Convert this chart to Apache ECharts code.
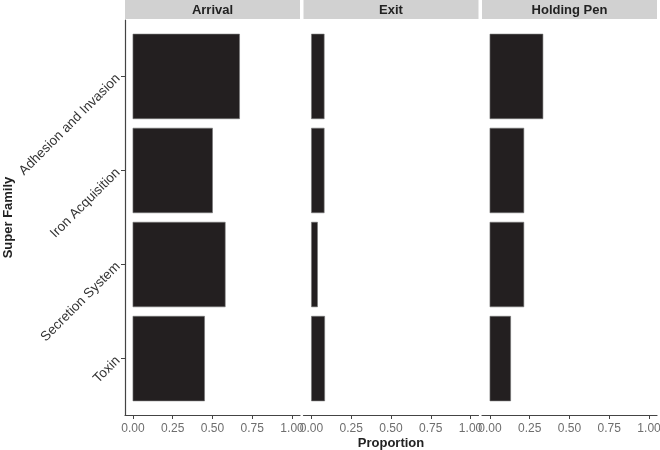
<!DOCTYPE html>
<html>
<head>
<meta charset="utf-8">
<script src="https://cdn.jsdelivr.net/npm/echarts@6/dist/echarts.min.js"></script>
<style>
html, body { margin: 0; padding: 0; background: #fff; }
#main { width: 660px; height: 450px; }
</style>
</head>
<body>
<div id="main"></div>
<script>
var categories = ['Adhesion and Invasion', 'Iron Acquisition', 'Secretion System', 'Toxin'];
var panels = ['Arrival', 'Exit', 'Holding Pen'];
var arrival = [0.67, 0.50, 0.58, 0.45];
var exitVals = [0.08, 0.08, 0.038, 0.083];
var holdingPen = [0.333, 0.213, 0.213, 0.13];
var xTicks = [0, 0.25, 0.5, 0.75, 1];

var panelData = [arrival, exitVals, holdingPen];
var lefts = [125, 303.5, 482];
var panelW = 175, panelTop = 20, panelH = 395, stripH = 19;
var font = 'Liberation Sans, Arial, sans-serif';

var chart = echarts.init(document.getElementById('main'));

var grids = [], xAxes = [], yAxes = [], series = [], graphics = [];

panels.forEach(function (name, i) {
    grids.push({
        left: lefts[i], top: panelTop, width: panelW, height: panelH,
        containLabel: false, outerBoundsMode: 'none'
    });
    xAxes.push({
        type: 'value', gridIndex: i, min: -0.05, max: 1.05,
        axisLine: { show: true, onZero: false, lineStyle: { color: '#444', width: 1.2 } },
        axisTick: { show: true, length: 4, customValues: xTicks, lineStyle: { color: '#444' } },
        axisLabel: {
            customValues: xTicks, color: '#6e6e6e', fontSize: 12, fontFamily: font, margin: 8,
            formatter: function (v) { return v.toFixed(2); }
        },
        splitLine: { show: false },
        name: i === 1 ? 'Proportion' : '',
        nameLocation: 'middle', nameGap: 22, nameMoveOverlap: false,
        nameTextStyle: { fontWeight: 'bold', fontSize: 13, color: '#222', fontFamily: font }
    });
    yAxes.push({
        type: 'value', gridIndex: i, min: -0.6, max: 3.6, inverse: true,
        axisLine: { show: i === 0, onZero: false, lineStyle: { color: '#444', width: 1.2 } },
        axisTick: { show: i === 0, length: 4, customValues: [0, 1, 2, 3], lineStyle: { color: '#444' } },
        axisLabel: {
            show: i === 0, customValues: [0, 1, 2, 3], rotate: 45, color: '#333', fontSize: 13.5,
            fontFamily: font, margin: 7,
            formatter: function (v) { return categories[Math.round(v)] || ''; }
        },
        splitLine: { show: false },
        name: i === 0 ? 'Super Family' : '',
        nameLocation: 'middle', nameGap: 110, nameRotate: 90, nameMoveOverlap: false,
        nameTextStyle: { fontWeight: 'bold', fontSize: 13, color: '#222', fontFamily: font }
    });
    series.push({
        type: 'custom', xAxisIndex: i, yAxisIndex: i,
        data: panelData[i].map(function (v, k) { return [v, k]; }),
        renderItem: function (params, api) {
            var v = api.value(0), k = api.value(1);
            var p0 = api.coord([0, k - 0.45]);
            var p1 = api.coord([v, k + 0.45]);
            return {
                type: 'rect',
                shape: { x: p0[0], y: Math.min(p0[1], p1[1]), width: p1[0] - p0[0], height: Math.abs(p1[1] - p0[1]) },
                style: { fill: '#231f20', stroke: '#777', lineWidth: 0.6 }
            };
        }
    });
    graphics.push({
        type: 'rect', left: lefts[i], top: 0,
        shape: { width: panelW, height: stripH },
        style: { fill: '#d1d1d1' }
    });
    graphics.push({
        type: 'text', x: lefts[i] + panelW / 2, y: stripH / 2 + 0.5,
        style: {
            text: name, fill: '#222', font: 'bold 13px ' + font,
            textAlign: 'center', textVerticalAlign: 'middle'
        }
    });
});

var option = {
    backgroundColor: '#fff',
    animation: false,
    grid: grids,
    xAxis: xAxes,
    yAxis: yAxes,
    series: series,
    graphic: graphics
};
chart.setOption(option);
</script>
</body>
</html>
